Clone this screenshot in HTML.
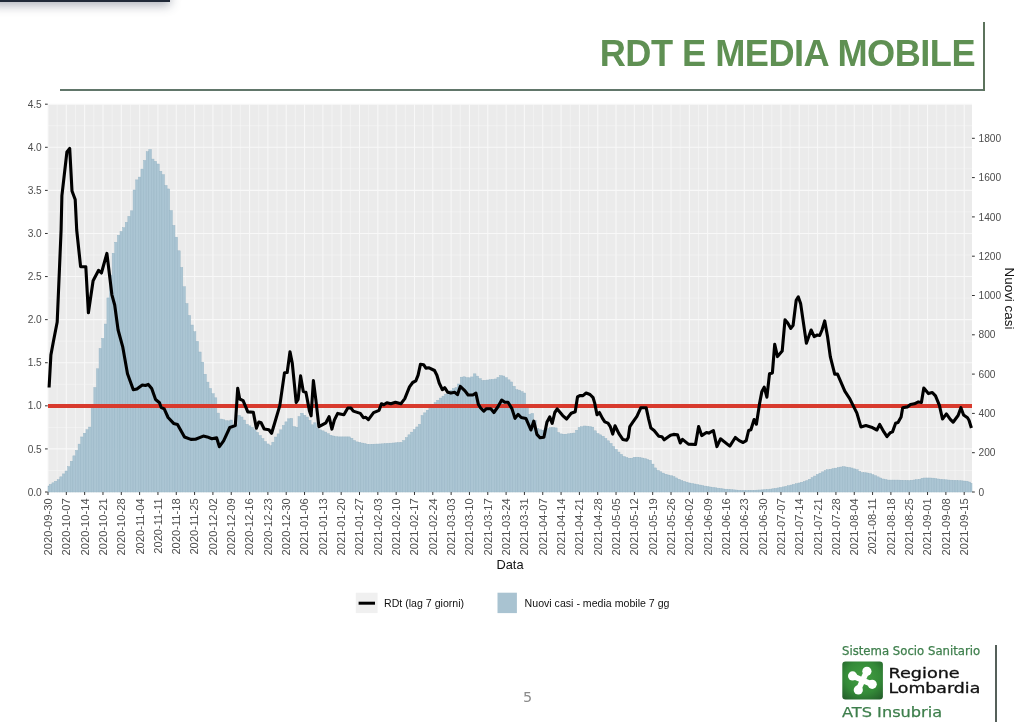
<!DOCTYPE html>
<html><head><meta charset="utf-8"><title>RDT E MEDIA MOBILE</title>
<style>
html,body{margin:0;padding:0;background:#fff}
body{width:1024px;height:722px;position:relative;overflow:hidden;font-family:"Liberation Sans",Arial,sans-serif}
.topbar{position:absolute;left:-10px;top:-12px;width:180px;height:13.6px;background:#202938;box-shadow:0 3px 11px rgba(50,60,80,.42)}
.title{position:absolute;right:49px;top:33px;font-weight:bold;font-size:36.2px;line-height:42px;color:#5f9053;white-space:nowrap;letter-spacing:-0.52px}
.hline{position:absolute;left:60px;top:89.4px;width:925px;height:1.3px;background:#61766a}
.vline{position:absolute;left:983.4px;top:21.8px;width:1.5px;height:69px;background:#5c735c}
.pn{position:absolute;left:523px;top:687px;font-size:14.4px;color:#8a8a8a;font-family:"DejaVu Sans","Liberation Sans",sans-serif;line-height:20px}
.lv{position:absolute;left:995.4px;top:645px;width:1.2px;height:80px;background:#55605a}
.sss{position:absolute;left:842px;top:643px;font-size:11.4px;line-height:14px;color:#3f8550;white-space:nowrap;letter-spacing:.35px;font-family:"DejaVu Sans","Liberation Sans",sans-serif}
.logo{position:absolute;left:842.5px;top:661.5px;width:40.5px;height:37.5px;border-radius:4px;background:linear-gradient(#3f9142,#2a6b2f)}
.rl{position:absolute;left:888px;font-size:14px;line-height:14px;color:#111;white-space:nowrap;font-family:"DejaVu Sans","Liberation Sans",sans-serif}
.ats{position:absolute;left:842px;top:703px;font-size:14px;line-height:16px;color:#3f8550;white-space:nowrap;font-family:"DejaVu Sans","Liberation Sans",sans-serif}
</style></head><body>
<div class="topbar"></div>
<div class="title">RDT E MEDIA MOBILE</div>
<div class="hline"></div><div class="vline"></div>
<svg width="1024" height="722" viewBox="0 0 1024 722" style="position:absolute;left:0;top:0">
<rect x="48.0" y="104.2" width="924.0" height="387.8" fill="#ebebeb"/>
<g><line x1="48.00" y1="104.2" x2="48.00" y2="492.0" stroke="#f8f8f8" stroke-width="1.05"/><line x1="57.16" y1="104.2" x2="57.16" y2="492.0" stroke="#f8f8f8" stroke-width="0.5"/><line x1="66.32" y1="104.2" x2="66.32" y2="492.0" stroke="#f8f8f8" stroke-width="1.05"/><line x1="75.49" y1="104.2" x2="75.49" y2="492.0" stroke="#f8f8f8" stroke-width="0.5"/><line x1="84.65" y1="104.2" x2="84.65" y2="492.0" stroke="#f8f8f8" stroke-width="1.05"/><line x1="93.81" y1="104.2" x2="93.81" y2="492.0" stroke="#f8f8f8" stroke-width="0.5"/><line x1="102.97" y1="104.2" x2="102.97" y2="492.0" stroke="#f8f8f8" stroke-width="1.05"/><line x1="112.13" y1="104.2" x2="112.13" y2="492.0" stroke="#f8f8f8" stroke-width="0.5"/><line x1="121.30" y1="104.2" x2="121.30" y2="492.0" stroke="#f8f8f8" stroke-width="1.05"/><line x1="130.46" y1="104.2" x2="130.46" y2="492.0" stroke="#f8f8f8" stroke-width="0.5"/><line x1="139.62" y1="104.2" x2="139.62" y2="492.0" stroke="#f8f8f8" stroke-width="1.05"/><line x1="148.78" y1="104.2" x2="148.78" y2="492.0" stroke="#f8f8f8" stroke-width="0.5"/><line x1="157.94" y1="104.2" x2="157.94" y2="492.0" stroke="#f8f8f8" stroke-width="1.05"/><line x1="167.11" y1="104.2" x2="167.11" y2="492.0" stroke="#f8f8f8" stroke-width="0.5"/><line x1="176.27" y1="104.2" x2="176.27" y2="492.0" stroke="#f8f8f8" stroke-width="1.05"/><line x1="185.43" y1="104.2" x2="185.43" y2="492.0" stroke="#f8f8f8" stroke-width="0.5"/><line x1="194.59" y1="104.2" x2="194.59" y2="492.0" stroke="#f8f8f8" stroke-width="1.05"/><line x1="203.75" y1="104.2" x2="203.75" y2="492.0" stroke="#f8f8f8" stroke-width="0.5"/><line x1="212.92" y1="104.2" x2="212.92" y2="492.0" stroke="#f8f8f8" stroke-width="1.05"/><line x1="222.08" y1="104.2" x2="222.08" y2="492.0" stroke="#f8f8f8" stroke-width="0.5"/><line x1="231.24" y1="104.2" x2="231.24" y2="492.0" stroke="#f8f8f8" stroke-width="1.05"/><line x1="240.40" y1="104.2" x2="240.40" y2="492.0" stroke="#f8f8f8" stroke-width="0.5"/><line x1="249.56" y1="104.2" x2="249.56" y2="492.0" stroke="#f8f8f8" stroke-width="1.05"/><line x1="258.73" y1="104.2" x2="258.73" y2="492.0" stroke="#f8f8f8" stroke-width="0.5"/><line x1="267.89" y1="104.2" x2="267.89" y2="492.0" stroke="#f8f8f8" stroke-width="1.05"/><line x1="277.05" y1="104.2" x2="277.05" y2="492.0" stroke="#f8f8f8" stroke-width="0.5"/><line x1="286.21" y1="104.2" x2="286.21" y2="492.0" stroke="#f8f8f8" stroke-width="1.05"/><line x1="295.37" y1="104.2" x2="295.37" y2="492.0" stroke="#f8f8f8" stroke-width="0.5"/><line x1="304.54" y1="104.2" x2="304.54" y2="492.0" stroke="#f8f8f8" stroke-width="1.05"/><line x1="313.70" y1="104.2" x2="313.70" y2="492.0" stroke="#f8f8f8" stroke-width="0.5"/><line x1="322.86" y1="104.2" x2="322.86" y2="492.0" stroke="#f8f8f8" stroke-width="1.05"/><line x1="332.02" y1="104.2" x2="332.02" y2="492.0" stroke="#f8f8f8" stroke-width="0.5"/><line x1="341.18" y1="104.2" x2="341.18" y2="492.0" stroke="#f8f8f8" stroke-width="1.05"/><line x1="350.35" y1="104.2" x2="350.35" y2="492.0" stroke="#f8f8f8" stroke-width="0.5"/><line x1="359.51" y1="104.2" x2="359.51" y2="492.0" stroke="#f8f8f8" stroke-width="1.05"/><line x1="368.67" y1="104.2" x2="368.67" y2="492.0" stroke="#f8f8f8" stroke-width="0.5"/><line x1="377.83" y1="104.2" x2="377.83" y2="492.0" stroke="#f8f8f8" stroke-width="1.05"/><line x1="386.99" y1="104.2" x2="386.99" y2="492.0" stroke="#f8f8f8" stroke-width="0.5"/><line x1="396.16" y1="104.2" x2="396.16" y2="492.0" stroke="#f8f8f8" stroke-width="1.05"/><line x1="405.32" y1="104.2" x2="405.32" y2="492.0" stroke="#f8f8f8" stroke-width="0.5"/><line x1="414.48" y1="104.2" x2="414.48" y2="492.0" stroke="#f8f8f8" stroke-width="1.05"/><line x1="423.64" y1="104.2" x2="423.64" y2="492.0" stroke="#f8f8f8" stroke-width="0.5"/><line x1="432.80" y1="104.2" x2="432.80" y2="492.0" stroke="#f8f8f8" stroke-width="1.05"/><line x1="441.97" y1="104.2" x2="441.97" y2="492.0" stroke="#f8f8f8" stroke-width="0.5"/><line x1="451.13" y1="104.2" x2="451.13" y2="492.0" stroke="#f8f8f8" stroke-width="1.05"/><line x1="460.29" y1="104.2" x2="460.29" y2="492.0" stroke="#f8f8f8" stroke-width="0.5"/><line x1="469.45" y1="104.2" x2="469.45" y2="492.0" stroke="#f8f8f8" stroke-width="1.05"/><line x1="478.61" y1="104.2" x2="478.61" y2="492.0" stroke="#f8f8f8" stroke-width="0.5"/><line x1="487.78" y1="104.2" x2="487.78" y2="492.0" stroke="#f8f8f8" stroke-width="1.05"/><line x1="496.94" y1="104.2" x2="496.94" y2="492.0" stroke="#f8f8f8" stroke-width="0.5"/><line x1="506.10" y1="104.2" x2="506.10" y2="492.0" stroke="#f8f8f8" stroke-width="1.05"/><line x1="515.26" y1="104.2" x2="515.26" y2="492.0" stroke="#f8f8f8" stroke-width="0.5"/><line x1="524.42" y1="104.2" x2="524.42" y2="492.0" stroke="#f8f8f8" stroke-width="1.05"/><line x1="533.59" y1="104.2" x2="533.59" y2="492.0" stroke="#f8f8f8" stroke-width="0.5"/><line x1="542.75" y1="104.2" x2="542.75" y2="492.0" stroke="#f8f8f8" stroke-width="1.05"/><line x1="551.91" y1="104.2" x2="551.91" y2="492.0" stroke="#f8f8f8" stroke-width="0.5"/><line x1="561.07" y1="104.2" x2="561.07" y2="492.0" stroke="#f8f8f8" stroke-width="1.05"/><line x1="570.23" y1="104.2" x2="570.23" y2="492.0" stroke="#f8f8f8" stroke-width="0.5"/><line x1="579.40" y1="104.2" x2="579.40" y2="492.0" stroke="#f8f8f8" stroke-width="1.05"/><line x1="588.56" y1="104.2" x2="588.56" y2="492.0" stroke="#f8f8f8" stroke-width="0.5"/><line x1="597.72" y1="104.2" x2="597.72" y2="492.0" stroke="#f8f8f8" stroke-width="1.05"/><line x1="606.88" y1="104.2" x2="606.88" y2="492.0" stroke="#f8f8f8" stroke-width="0.5"/><line x1="616.04" y1="104.2" x2="616.04" y2="492.0" stroke="#f8f8f8" stroke-width="1.05"/><line x1="625.21" y1="104.2" x2="625.21" y2="492.0" stroke="#f8f8f8" stroke-width="0.5"/><line x1="634.37" y1="104.2" x2="634.37" y2="492.0" stroke="#f8f8f8" stroke-width="1.05"/><line x1="643.53" y1="104.2" x2="643.53" y2="492.0" stroke="#f8f8f8" stroke-width="0.5"/><line x1="652.69" y1="104.2" x2="652.69" y2="492.0" stroke="#f8f8f8" stroke-width="1.05"/><line x1="661.85" y1="104.2" x2="661.85" y2="492.0" stroke="#f8f8f8" stroke-width="0.5"/><line x1="671.02" y1="104.2" x2="671.02" y2="492.0" stroke="#f8f8f8" stroke-width="1.05"/><line x1="680.18" y1="104.2" x2="680.18" y2="492.0" stroke="#f8f8f8" stroke-width="0.5"/><line x1="689.34" y1="104.2" x2="689.34" y2="492.0" stroke="#f8f8f8" stroke-width="1.05"/><line x1="698.50" y1="104.2" x2="698.50" y2="492.0" stroke="#f8f8f8" stroke-width="0.5"/><line x1="707.66" y1="104.2" x2="707.66" y2="492.0" stroke="#f8f8f8" stroke-width="1.05"/><line x1="716.83" y1="104.2" x2="716.83" y2="492.0" stroke="#f8f8f8" stroke-width="0.5"/><line x1="725.99" y1="104.2" x2="725.99" y2="492.0" stroke="#f8f8f8" stroke-width="1.05"/><line x1="735.15" y1="104.2" x2="735.15" y2="492.0" stroke="#f8f8f8" stroke-width="0.5"/><line x1="744.31" y1="104.2" x2="744.31" y2="492.0" stroke="#f8f8f8" stroke-width="1.05"/><line x1="753.47" y1="104.2" x2="753.47" y2="492.0" stroke="#f8f8f8" stroke-width="0.5"/><line x1="762.64" y1="104.2" x2="762.64" y2="492.0" stroke="#f8f8f8" stroke-width="1.05"/><line x1="771.80" y1="104.2" x2="771.80" y2="492.0" stroke="#f8f8f8" stroke-width="0.5"/><line x1="780.96" y1="104.2" x2="780.96" y2="492.0" stroke="#f8f8f8" stroke-width="1.05"/><line x1="790.12" y1="104.2" x2="790.12" y2="492.0" stroke="#f8f8f8" stroke-width="0.5"/><line x1="799.28" y1="104.2" x2="799.28" y2="492.0" stroke="#f8f8f8" stroke-width="1.05"/><line x1="808.45" y1="104.2" x2="808.45" y2="492.0" stroke="#f8f8f8" stroke-width="0.5"/><line x1="817.61" y1="104.2" x2="817.61" y2="492.0" stroke="#f8f8f8" stroke-width="1.05"/><line x1="826.77" y1="104.2" x2="826.77" y2="492.0" stroke="#f8f8f8" stroke-width="0.5"/><line x1="835.93" y1="104.2" x2="835.93" y2="492.0" stroke="#f8f8f8" stroke-width="1.05"/><line x1="845.09" y1="104.2" x2="845.09" y2="492.0" stroke="#f8f8f8" stroke-width="0.5"/><line x1="854.26" y1="104.2" x2="854.26" y2="492.0" stroke="#f8f8f8" stroke-width="1.05"/><line x1="863.42" y1="104.2" x2="863.42" y2="492.0" stroke="#f8f8f8" stroke-width="0.5"/><line x1="872.58" y1="104.2" x2="872.58" y2="492.0" stroke="#f8f8f8" stroke-width="1.05"/><line x1="881.74" y1="104.2" x2="881.74" y2="492.0" stroke="#f8f8f8" stroke-width="0.5"/><line x1="890.90" y1="104.2" x2="890.90" y2="492.0" stroke="#f8f8f8" stroke-width="1.05"/><line x1="900.07" y1="104.2" x2="900.07" y2="492.0" stroke="#f8f8f8" stroke-width="0.5"/><line x1="909.23" y1="104.2" x2="909.23" y2="492.0" stroke="#f8f8f8" stroke-width="1.05"/><line x1="918.39" y1="104.2" x2="918.39" y2="492.0" stroke="#f8f8f8" stroke-width="0.5"/><line x1="927.55" y1="104.2" x2="927.55" y2="492.0" stroke="#f8f8f8" stroke-width="1.05"/><line x1="936.71" y1="104.2" x2="936.71" y2="492.0" stroke="#f8f8f8" stroke-width="0.5"/><line x1="945.88" y1="104.2" x2="945.88" y2="492.0" stroke="#f8f8f8" stroke-width="1.05"/><line x1="955.04" y1="104.2" x2="955.04" y2="492.0" stroke="#f8f8f8" stroke-width="0.5"/><line x1="964.20" y1="104.2" x2="964.20" y2="492.0" stroke="#f8f8f8" stroke-width="1.05"/><line x1="48.0" y1="492.00" x2="972.0" y2="492.00" stroke="#f8f8f8" stroke-width="1.1"/><line x1="48.0" y1="470.46" x2="972.0" y2="470.46" stroke="#f8f8f8" stroke-width="0.55"/><line x1="48.0" y1="448.91" x2="972.0" y2="448.91" stroke="#f8f8f8" stroke-width="1.1"/><line x1="48.0" y1="427.37" x2="972.0" y2="427.37" stroke="#f8f8f8" stroke-width="0.55"/><line x1="48.0" y1="405.82" x2="972.0" y2="405.82" stroke="#f8f8f8" stroke-width="1.1"/><line x1="48.0" y1="384.28" x2="972.0" y2="384.28" stroke="#f8f8f8" stroke-width="0.55"/><line x1="48.0" y1="362.73" x2="972.0" y2="362.73" stroke="#f8f8f8" stroke-width="1.1"/><line x1="48.0" y1="341.19" x2="972.0" y2="341.19" stroke="#f8f8f8" stroke-width="0.55"/><line x1="48.0" y1="319.64" x2="972.0" y2="319.64" stroke="#f8f8f8" stroke-width="1.1"/><line x1="48.0" y1="298.10" x2="972.0" y2="298.10" stroke="#f8f8f8" stroke-width="0.55"/><line x1="48.0" y1="276.56" x2="972.0" y2="276.56" stroke="#f8f8f8" stroke-width="1.1"/><line x1="48.0" y1="255.01" x2="972.0" y2="255.01" stroke="#f8f8f8" stroke-width="0.55"/><line x1="48.0" y1="233.47" x2="972.0" y2="233.47" stroke="#f8f8f8" stroke-width="1.1"/><line x1="48.0" y1="211.92" x2="972.0" y2="211.92" stroke="#f8f8f8" stroke-width="0.55"/><line x1="48.0" y1="190.38" x2="972.0" y2="190.38" stroke="#f8f8f8" stroke-width="1.1"/><line x1="48.0" y1="168.83" x2="972.0" y2="168.83" stroke="#f8f8f8" stroke-width="0.55"/><line x1="48.0" y1="147.29" x2="972.0" y2="147.29" stroke="#f8f8f8" stroke-width="1.1"/><line x1="48.0" y1="125.74" x2="972.0" y2="125.74" stroke="#f8f8f8" stroke-width="0.55"/><line x1="48.0" y1="104.20" x2="972.0" y2="104.20" stroke="#f8f8f8" stroke-width="1.1"/></g>
<g fill="#abc5d3" stroke="#98b5c5" stroke-width="0.45"><rect x="48.00" y="486.00" width="1.31" height="6.00"/><rect x="49.31" y="484.42" width="2.62" height="7.58"/><rect x="51.93" y="482.84" width="2.62" height="9.16"/><rect x="54.54" y="481.26" width="2.62" height="10.74"/><rect x="57.16" y="479.68" width="2.62" height="12.32"/><rect x="59.78" y="476.83" width="2.62" height="15.17"/><rect x="62.40" y="473.91" width="2.62" height="18.09"/><rect x="65.02" y="471.00" width="2.62" height="21.00"/><rect x="67.63" y="466.63" width="2.62" height="25.37"/><rect x="70.25" y="461.25" width="2.62" height="30.75"/><rect x="72.87" y="455.86" width="2.62" height="36.14"/><rect x="75.49" y="450.48" width="2.62" height="41.52"/><rect x="78.10" y="444.12" width="2.62" height="47.88"/><rect x="80.72" y="436.96" width="2.62" height="55.04"/><rect x="83.34" y="433.22" width="2.62" height="58.78"/><rect x="85.96" y="429.75" width="2.62" height="62.25"/><rect x="88.57" y="427.07" width="2.62" height="64.93"/><rect x="91.19" y="404.38" width="2.62" height="87.62"/><rect x="93.81" y="387.47" width="2.62" height="104.53"/><rect x="96.43" y="368.78" width="2.62" height="123.22"/><rect x="99.05" y="348.46" width="2.62" height="143.54"/><rect x="101.66" y="338.41" width="2.62" height="153.59"/><rect x="104.28" y="324.06" width="2.62" height="167.94"/><rect x="106.90" y="297.93" width="2.62" height="194.07"/><rect x="109.52" y="275.05" width="2.62" height="216.95"/><rect x="112.13" y="253.22" width="2.62" height="238.78"/><rect x="114.75" y="242.26" width="2.62" height="249.74"/><rect x="117.37" y="235.31" width="2.62" height="256.69"/><rect x="119.99" y="231.46" width="2.62" height="260.54"/><rect x="122.60" y="227.72" width="2.62" height="264.28"/><rect x="125.22" y="222.35" width="2.62" height="269.65"/><rect x="127.84" y="216.35" width="2.62" height="275.65"/><rect x="130.46" y="210.81" width="2.62" height="281.19"/><rect x="133.08" y="189.98" width="2.62" height="302.02"/><rect x="135.69" y="179.89" width="2.62" height="312.11"/><rect x="138.31" y="177.11" width="2.62" height="314.89"/><rect x="140.93" y="169.05" width="2.62" height="322.95"/><rect x="143.55" y="160.44" width="2.62" height="331.56"/><rect x="146.16" y="151.71" width="2.62" height="340.29"/><rect x="148.78" y="149.50" width="2.62" height="342.50"/><rect x="151.40" y="159.09" width="2.62" height="332.91"/><rect x="154.02" y="161.32" width="2.62" height="330.68"/><rect x="156.64" y="164.00" width="2.62" height="328.00"/><rect x="159.25" y="171.30" width="2.62" height="320.70"/><rect x="161.87" y="174.66" width="2.62" height="317.34"/><rect x="164.49" y="185.48" width="2.62" height="306.52"/><rect x="167.11" y="188.95" width="2.62" height="303.05"/><rect x="169.72" y="210.56" width="2.62" height="281.44"/><rect x="172.34" y="225.49" width="2.62" height="266.51"/><rect x="174.96" y="237.18" width="2.62" height="254.82"/><rect x="177.58" y="250.80" width="2.62" height="241.20"/><rect x="180.19" y="267.46" width="2.62" height="224.54"/><rect x="182.81" y="286.75" width="2.62" height="205.25"/><rect x="185.43" y="303.59" width="2.62" height="188.41"/><rect x="188.05" y="315.48" width="2.62" height="176.52"/><rect x="190.67" y="325.03" width="2.62" height="166.97"/><rect x="193.28" y="331.77" width="2.62" height="160.23"/><rect x="195.90" y="341.39" width="2.62" height="150.61"/><rect x="198.52" y="352.00" width="2.62" height="140.00"/><rect x="201.14" y="362.18" width="2.62" height="129.82"/><rect x="203.75" y="374.23" width="2.62" height="117.77"/><rect x="206.37" y="382.14" width="2.62" height="109.86"/><rect x="208.99" y="388.50" width="2.62" height="103.50"/><rect x="211.61" y="393.73" width="2.62" height="98.27"/><rect x="214.22" y="397.83" width="2.62" height="94.17"/><rect x="216.84" y="413.09" width="2.62" height="78.91"/><rect x="219.46" y="419.06" width="2.62" height="72.94"/><rect x="222.08" y="419.70" width="2.62" height="72.30"/><rect x="224.70" y="420.69" width="2.62" height="71.31"/><rect x="227.31" y="420.88" width="2.62" height="71.12"/><rect x="229.93" y="420.02" width="2.62" height="71.98"/><rect x="232.55" y="424.75" width="2.62" height="67.25"/><rect x="235.17" y="424.81" width="2.62" height="67.19"/><rect x="237.78" y="415.44" width="2.62" height="76.56"/><rect x="240.40" y="417.00" width="2.62" height="75.00"/><rect x="243.02" y="420.08" width="2.62" height="71.92"/><rect x="245.64" y="424.31" width="2.62" height="67.69"/><rect x="248.26" y="425.85" width="2.62" height="66.15"/><rect x="250.87" y="427.32" width="2.62" height="64.68"/><rect x="253.49" y="429.80" width="2.62" height="62.20"/><rect x="256.11" y="432.45" width="2.62" height="59.55"/><rect x="258.73" y="435.52" width="2.62" height="56.48"/><rect x="261.34" y="438.56" width="2.62" height="53.44"/><rect x="263.96" y="441.57" width="2.62" height="50.43"/><rect x="266.58" y="443.97" width="2.62" height="48.03"/><rect x="269.20" y="445.75" width="2.62" height="46.25"/><rect x="271.81" y="442.19" width="2.62" height="49.81"/><rect x="274.43" y="437.05" width="2.62" height="54.95"/><rect x="277.05" y="433.89" width="2.62" height="58.11"/><rect x="279.67" y="429.85" width="2.62" height="62.15"/><rect x="282.29" y="425.46" width="2.62" height="66.54"/><rect x="284.90" y="421.86" width="2.62" height="70.14"/><rect x="287.52" y="418.83" width="2.62" height="73.17"/><rect x="290.14" y="418.38" width="2.62" height="73.62"/><rect x="292.76" y="426.61" width="2.62" height="65.39"/><rect x="295.37" y="427.21" width="2.62" height="64.79"/><rect x="297.99" y="416.58" width="2.62" height="75.42"/><rect x="300.61" y="413.27" width="2.62" height="78.73"/><rect x="303.23" y="415.29" width="2.62" height="76.71"/><rect x="305.84" y="417.04" width="2.62" height="74.96"/><rect x="308.46" y="420.40" width="2.62" height="71.60"/><rect x="311.08" y="424.82" width="2.62" height="67.18"/><rect x="313.70" y="422.81" width="2.62" height="69.19"/><rect x="316.32" y="428.13" width="2.62" height="63.87"/><rect x="318.93" y="429.88" width="2.62" height="62.12"/><rect x="321.55" y="430.84" width="2.62" height="61.16"/><rect x="324.17" y="432.08" width="2.62" height="59.92"/><rect x="326.79" y="433.72" width="2.62" height="58.28"/><rect x="329.40" y="435.33" width="2.62" height="56.67"/><rect x="332.02" y="435.99" width="2.62" height="56.01"/><rect x="334.64" y="436.66" width="2.62" height="55.34"/><rect x="337.26" y="436.90" width="2.62" height="55.10"/><rect x="339.88" y="436.90" width="2.62" height="55.10"/><rect x="342.49" y="436.90" width="2.62" height="55.10"/><rect x="345.11" y="436.90" width="2.62" height="55.10"/><rect x="347.73" y="436.90" width="2.62" height="55.10"/><rect x="350.35" y="438.26" width="2.62" height="53.74"/><rect x="352.96" y="440.47" width="2.62" height="51.53"/><rect x="355.58" y="441.89" width="2.62" height="50.11"/><rect x="358.20" y="442.48" width="2.62" height="49.52"/><rect x="360.82" y="443.07" width="2.62" height="48.93"/><rect x="363.43" y="443.66" width="2.62" height="48.34"/><rect x="366.05" y="444.26" width="2.62" height="47.74"/><rect x="368.67" y="444.33" width="2.62" height="47.67"/><rect x="371.29" y="444.24" width="2.62" height="47.76"/><rect x="373.91" y="444.14" width="2.62" height="47.86"/><rect x="376.52" y="444.05" width="2.62" height="47.95"/><rect x="379.14" y="443.96" width="2.62" height="48.04"/><rect x="381.76" y="443.82" width="2.62" height="48.18"/><rect x="384.38" y="443.61" width="2.62" height="48.39"/><rect x="386.99" y="443.41" width="2.62" height="48.59"/><rect x="389.61" y="443.20" width="2.62" height="48.80"/><rect x="392.23" y="443.00" width="2.62" height="49.00"/><rect x="394.85" y="442.80" width="2.62" height="49.20"/><rect x="397.46" y="442.59" width="2.62" height="49.41"/><rect x="400.08" y="442.39" width="2.62" height="49.61"/><rect x="402.70" y="440.57" width="2.62" height="51.43"/><rect x="405.32" y="437.56" width="2.62" height="54.44"/><rect x="407.94" y="434.82" width="2.62" height="57.18"/><rect x="410.55" y="432.16" width="2.62" height="59.84"/><rect x="413.17" y="429.54" width="2.62" height="62.46"/><rect x="415.79" y="426.96" width="2.62" height="65.04"/><rect x="418.41" y="424.32" width="2.62" height="67.68"/><rect x="421.02" y="415.51" width="2.62" height="76.49"/><rect x="423.64" y="412.87" width="2.62" height="79.13"/><rect x="426.26" y="410.23" width="2.62" height="81.77"/><rect x="428.88" y="407.59" width="2.62" height="84.41"/><rect x="431.50" y="404.95" width="2.62" height="87.05"/><rect x="434.11" y="402.56" width="2.62" height="89.44"/><rect x="436.73" y="400.29" width="2.62" height="91.71"/><rect x="439.35" y="398.11" width="2.62" height="93.89"/><rect x="441.97" y="396.14" width="2.62" height="95.86"/><rect x="444.58" y="394.17" width="2.62" height="97.83"/><rect x="447.20" y="392.30" width="2.62" height="99.70"/><rect x="449.82" y="390.44" width="2.62" height="101.56"/><rect x="452.44" y="388.58" width="2.62" height="103.42"/><rect x="455.05" y="387.65" width="2.62" height="104.35"/><rect x="457.67" y="384.00" width="2.62" height="108.00"/><rect x="460.29" y="377.19" width="2.62" height="114.81"/><rect x="462.91" y="376.81" width="2.62" height="115.19"/><rect x="465.53" y="377.65" width="2.62" height="114.35"/><rect x="468.14" y="377.84" width="2.62" height="114.16"/><rect x="470.76" y="376.95" width="2.62" height="115.05"/><rect x="473.38" y="373.84" width="2.62" height="118.16"/><rect x="476.00" y="376.13" width="2.62" height="115.87"/><rect x="478.61" y="378.71" width="2.62" height="113.29"/><rect x="481.23" y="380.57" width="2.62" height="111.43"/><rect x="483.85" y="380.30" width="2.62" height="111.70"/><rect x="486.47" y="380.03" width="2.62" height="111.97"/><rect x="489.08" y="379.74" width="2.62" height="112.26"/><rect x="491.70" y="379.37" width="2.62" height="112.63"/><rect x="494.32" y="378.99" width="2.62" height="113.01"/><rect x="496.94" y="377.47" width="2.62" height="114.53"/><rect x="499.56" y="375.60" width="2.62" height="116.40"/><rect x="502.17" y="376.05" width="2.62" height="115.95"/><rect x="504.79" y="377.71" width="2.62" height="114.29"/><rect x="507.41" y="379.86" width="2.62" height="112.14"/><rect x="510.03" y="381.96" width="2.62" height="110.04"/><rect x="512.64" y="386.30" width="2.62" height="105.70"/><rect x="515.26" y="389.76" width="2.62" height="102.24"/><rect x="517.88" y="390.15" width="2.62" height="101.85"/><rect x="520.50" y="391.68" width="2.62" height="100.32"/><rect x="523.12" y="393.00" width="2.62" height="99.00"/><rect x="525.73" y="406.56" width="2.62" height="85.44"/><rect x="528.35" y="414.30" width="2.62" height="77.70"/><rect x="530.97" y="413.44" width="2.62" height="78.56"/><rect x="533.59" y="420.29" width="2.62" height="71.71"/><rect x="536.20" y="428.41" width="2.62" height="63.59"/><rect x="538.82" y="429.75" width="2.62" height="62.25"/><rect x="541.44" y="430.26" width="2.62" height="61.74"/><rect x="544.06" y="429.73" width="2.62" height="62.27"/><rect x="546.67" y="428.74" width="2.62" height="63.26"/><rect x="549.29" y="427.73" width="2.62" height="64.27"/><rect x="551.91" y="427.52" width="2.62" height="64.48"/><rect x="554.53" y="427.90" width="2.62" height="64.10"/><rect x="557.15" y="432.55" width="2.62" height="59.45"/><rect x="559.76" y="433.90" width="2.62" height="58.10"/><rect x="562.38" y="434.23" width="2.62" height="57.77"/><rect x="565.00" y="434.21" width="2.62" height="57.79"/><rect x="567.62" y="433.82" width="2.62" height="58.18"/><rect x="570.23" y="433.44" width="2.62" height="58.56"/><rect x="572.85" y="433.06" width="2.62" height="58.94"/><rect x="575.47" y="430.22" width="2.62" height="61.78"/><rect x="578.09" y="427.54" width="2.62" height="64.46"/><rect x="580.70" y="426.77" width="2.62" height="65.23"/><rect x="583.32" y="426.00" width="2.62" height="66.00"/><rect x="585.94" y="426.17" width="2.62" height="65.83"/><rect x="588.56" y="426.68" width="2.62" height="65.32"/><rect x="591.18" y="427.18" width="2.62" height="64.82"/><rect x="593.79" y="430.80" width="2.62" height="61.20"/><rect x="596.41" y="433.53" width="2.62" height="58.47"/><rect x="599.03" y="434.83" width="2.62" height="57.17"/><rect x="601.65" y="436.28" width="2.62" height="55.72"/><rect x="604.26" y="438.45" width="2.62" height="53.55"/><rect x="606.88" y="440.80" width="2.62" height="51.20"/><rect x="609.50" y="443.45" width="2.62" height="48.55"/><rect x="612.12" y="446.52" width="2.62" height="45.48"/><rect x="614.74" y="449.44" width="2.62" height="42.56"/><rect x="617.35" y="452.06" width="2.62" height="39.94"/><rect x="619.97" y="454.41" width="2.62" height="37.59"/><rect x="622.59" y="456.58" width="2.62" height="35.42"/><rect x="625.21" y="457.55" width="2.62" height="34.45"/><rect x="627.82" y="458.22" width="2.62" height="33.78"/><rect x="630.44" y="458.21" width="2.62" height="33.79"/><rect x="633.06" y="457.32" width="2.62" height="34.68"/><rect x="635.68" y="457.21" width="2.62" height="34.79"/><rect x="638.29" y="457.55" width="2.62" height="34.45"/><rect x="640.91" y="457.98" width="2.62" height="34.02"/><rect x="643.53" y="458.73" width="2.62" height="33.27"/><rect x="646.15" y="459.47" width="2.62" height="32.53"/><rect x="648.77" y="460.31" width="2.62" height="31.69"/><rect x="651.38" y="464.12" width="2.62" height="27.88"/><rect x="654.00" y="467.92" width="2.62" height="24.08"/><rect x="656.62" y="470.47" width="2.62" height="21.53"/><rect x="659.24" y="471.80" width="2.62" height="20.20"/><rect x="661.85" y="473.12" width="2.62" height="18.88"/><rect x="664.47" y="474.25" width="2.62" height="17.75"/><rect x="667.09" y="475.01" width="2.62" height="16.99"/><rect x="669.71" y="475.77" width="2.62" height="16.23"/><rect x="672.32" y="476.62" width="2.62" height="15.38"/><rect x="674.94" y="477.94" width="2.62" height="14.06"/><rect x="677.56" y="479.27" width="2.62" height="12.73"/><rect x="680.18" y="480.59" width="2.62" height="11.41"/><rect x="682.80" y="481.38" width="2.62" height="10.62"/><rect x="685.41" y="482.17" width="2.62" height="9.83"/><rect x="688.03" y="482.96" width="2.62" height="9.04"/><rect x="690.65" y="483.52" width="2.62" height="8.48"/><rect x="693.27" y="484.02" width="2.62" height="7.98"/><rect x="695.88" y="484.53" width="2.62" height="7.47"/><rect x="698.50" y="485.05" width="2.62" height="6.95"/><rect x="701.12" y="485.59" width="2.62" height="6.41"/><rect x="703.74" y="486.12" width="2.62" height="5.88"/><rect x="706.36" y="486.60" width="2.62" height="5.40"/><rect x="708.97" y="487.01" width="2.62" height="4.99"/><rect x="711.59" y="487.42" width="2.62" height="4.58"/><rect x="714.21" y="487.82" width="2.62" height="4.18"/><rect x="716.83" y="488.20" width="2.62" height="3.80"/><rect x="719.44" y="488.58" width="2.62" height="3.42"/><rect x="722.06" y="488.94" width="2.62" height="3.06"/><rect x="724.68" y="489.19" width="2.62" height="2.81"/><rect x="727.30" y="489.44" width="2.62" height="2.56"/><rect x="729.91" y="489.69" width="2.62" height="2.31"/><rect x="732.53" y="489.88" width="2.62" height="2.12"/><rect x="735.15" y="490.06" width="2.62" height="1.94"/><rect x="737.77" y="490.24" width="2.62" height="1.76"/><rect x="740.39" y="490.42" width="2.62" height="1.58"/><rect x="743.00" y="490.47" width="2.62" height="1.53"/><rect x="745.62" y="490.41" width="2.62" height="1.59"/><rect x="748.24" y="490.35" width="2.62" height="1.65"/><rect x="750.86" y="490.29" width="2.62" height="1.71"/><rect x="753.47" y="490.23" width="2.62" height="1.77"/><rect x="756.09" y="490.14" width="2.62" height="1.86"/><rect x="758.71" y="490.01" width="2.62" height="1.99"/><rect x="761.33" y="489.88" width="2.62" height="2.12"/><rect x="763.94" y="489.75" width="2.62" height="2.25"/><rect x="766.56" y="489.48" width="2.62" height="2.52"/><rect x="769.18" y="489.14" width="2.62" height="2.86"/><rect x="771.80" y="488.79" width="2.62" height="3.21"/><rect x="774.42" y="488.45" width="2.62" height="3.55"/><rect x="777.03" y="487.95" width="2.62" height="4.05"/><rect x="779.65" y="487.43" width="2.62" height="4.57"/><rect x="782.27" y="486.90" width="2.62" height="5.10"/><rect x="784.89" y="486.38" width="2.62" height="5.62"/><rect x="787.50" y="485.71" width="2.62" height="6.29"/><rect x="790.12" y="485.05" width="2.62" height="6.95"/><rect x="792.74" y="484.39" width="2.62" height="7.61"/><rect x="795.36" y="483.71" width="2.62" height="8.29"/><rect x="797.98" y="482.98" width="2.62" height="9.02"/><rect x="800.59" y="482.25" width="2.62" height="9.75"/><rect x="803.21" y="481.51" width="2.62" height="10.49"/><rect x="805.83" y="480.57" width="2.62" height="11.43"/><rect x="808.45" y="479.22" width="2.62" height="12.78"/><rect x="811.06" y="477.65" width="2.62" height="14.35"/><rect x="813.68" y="476.07" width="2.62" height="15.93"/><rect x="816.30" y="474.50" width="2.62" height="17.50"/><rect x="818.92" y="473.19" width="2.62" height="18.81"/><rect x="821.53" y="471.88" width="2.62" height="20.12"/><rect x="824.15" y="470.57" width="2.62" height="21.43"/><rect x="826.77" y="469.76" width="2.62" height="22.24"/><rect x="829.39" y="469.22" width="2.62" height="22.78"/><rect x="832.01" y="468.69" width="2.62" height="23.31"/><rect x="834.62" y="468.14" width="2.62" height="23.86"/><rect x="837.24" y="467.58" width="2.62" height="24.42"/><rect x="839.86" y="467.02" width="2.62" height="24.98"/><rect x="842.48" y="466.70" width="2.62" height="25.30"/><rect x="845.09" y="467.10" width="2.62" height="24.90"/><rect x="847.71" y="467.50" width="2.62" height="24.50"/><rect x="850.33" y="468.01" width="2.62" height="23.99"/><rect x="852.95" y="468.87" width="2.62" height="23.13"/><rect x="855.56" y="469.73" width="2.62" height="22.27"/><rect x="858.18" y="471.42" width="2.62" height="20.58"/><rect x="860.80" y="472.53" width="2.62" height="19.47"/><rect x="863.42" y="472.76" width="2.62" height="19.24"/><rect x="866.04" y="472.99" width="2.62" height="19.01"/><rect x="868.65" y="473.64" width="2.62" height="18.36"/><rect x="871.27" y="474.69" width="2.62" height="17.31"/><rect x="873.89" y="475.74" width="2.62" height="16.26"/><rect x="876.51" y="476.85" width="2.62" height="15.15"/><rect x="879.12" y="477.97" width="2.62" height="14.03"/><rect x="881.74" y="479.00" width="2.62" height="13.00"/><rect x="884.36" y="479.59" width="2.62" height="12.41"/><rect x="886.98" y="480.10" width="2.62" height="11.90"/><rect x="889.60" y="480.10" width="2.62" height="11.90"/><rect x="892.21" y="480.10" width="2.62" height="11.90"/><rect x="894.83" y="480.10" width="2.62" height="11.90"/><rect x="897.45" y="480.12" width="2.62" height="11.88"/><rect x="900.07" y="480.24" width="2.62" height="11.76"/><rect x="902.68" y="480.36" width="2.62" height="11.64"/><rect x="905.30" y="480.49" width="2.62" height="11.51"/><rect x="907.92" y="480.57" width="2.62" height="11.43"/><rect x="910.54" y="480.27" width="2.62" height="11.73"/><rect x="913.15" y="479.98" width="2.62" height="12.02"/><rect x="915.77" y="479.68" width="2.62" height="12.32"/><rect x="918.39" y="479.32" width="2.62" height="12.68"/><rect x="921.01" y="478.27" width="2.62" height="13.73"/><rect x="923.63" y="478.00" width="2.62" height="14.00"/><rect x="926.24" y="478.00" width="2.62" height="14.00"/><rect x="928.86" y="478.00" width="2.62" height="14.00"/><rect x="931.48" y="478.16" width="2.62" height="13.84"/><rect x="934.10" y="478.57" width="2.62" height="13.43"/><rect x="936.71" y="478.99" width="2.62" height="13.01"/><rect x="939.33" y="479.40" width="2.62" height="12.60"/><rect x="941.95" y="479.61" width="2.62" height="12.39"/><rect x="944.57" y="479.82" width="2.62" height="12.18"/><rect x="947.18" y="480.03" width="2.62" height="11.97"/><rect x="949.80" y="480.20" width="2.62" height="11.80"/><rect x="952.42" y="480.35" width="2.62" height="11.65"/><rect x="955.04" y="480.49" width="2.62" height="11.51"/><rect x="957.66" y="480.65" width="2.62" height="11.35"/><rect x="960.27" y="480.83" width="2.62" height="11.17"/><rect x="962.89" y="481.01" width="2.62" height="10.99"/><rect x="965.51" y="481.19" width="2.62" height="10.81"/><rect x="968.13" y="482.04" width="2.62" height="9.96"/><rect x="970.74" y="483.30" width="1.26" height="8.70"/></g>
<line x1="48.0" y1="406" x2="972.0" y2="406" stroke="#d83a2d" stroke-width="3.8"/>
<polyline points="49.1,387.5 50.9,355.0 53.3,342.0 57.2,322.0 61.1,230.0 61.9,195.6 66.9,152.0 69.7,148.4 72.0,191.0 75.2,199.5 76.7,230.0 80.6,266.7 85.8,266.7 88.4,312.8 93.1,280.8 98.6,270.3 101.4,273.0 106.9,253.4 111.9,294.8 114.7,305.0 118.1,330.0 122.8,347.2 127.5,373.8 133.3,389.8 136.9,389.0 142.3,385.0 145.5,385.5 148.3,384.4 151.7,388.6 155.6,399.5 159.5,402.7 161.1,407.3 164.2,408.9 168.1,417.5 173.6,423.4 177.5,424.5 184.5,437.0 190.8,439.4 195.5,439.2 203.3,436.1 207.2,436.9 211.9,438.8 216.6,437.7 219.4,446.7 223.6,440.8 229.8,427.5 235.3,425.6 237.7,388.4 239.7,399.0 243.1,400.6 247.8,411.9 253.3,412.2 256.4,428.3 258.8,422.0 261.1,422.8 264.2,429.0 268.9,429.8 271.6,433.3 275.2,421.2 279.8,405.6 284.5,372.8 287.2,372.5 290.0,351.7 292.3,363.4 296.2,402.5 298.1,399.4 300.6,375.9 303.3,391.6 305.9,392.3 309.5,411.1 311.1,415.8 313.4,380.6 315.8,399.4 318.9,426.7 325.9,422.8 329.1,416.6 331.9,429.1 334.5,419.7 337.7,413.4 343.9,414.7 347.8,408.0 350.9,408.0 353.3,411.1 360.3,413.4 363.4,417.7 365.8,417.3 368.4,419.7 373.6,412.7 379.1,410.3 381.4,403.8 383.8,404.8 386.9,402.8 390.8,403.8 395.5,402.2 400.9,403.8 404.8,398.6 409.5,386.9 412.7,382.5 415.8,380.9 418.1,375.2 420.5,364.2 423.6,364.7 425.9,368.1 429.1,367.8 434.5,370.5 436.9,375.2 439.2,383.0 442.3,389.7 444.7,387.7 447.8,392.3 450.9,393.1 454.8,392.3 457.5,394.7 460.3,386.4 465.0,390.8 468.1,395.0 472.8,395.0 475.9,393.1 478.3,404.1 480.6,408.0 483.8,411.1 486.1,408.8 490.8,408.8 493.9,412.5 497.8,407.0 501.7,400.0 504.8,402.3 508.0,402.3 511.9,408.6 515.0,418.4 518.1,414.4 521.2,417.5 525.9,418.4 530.9,430.0 533.8,421.1 536.9,434.4 540.0,437.8 543.9,437.2 547.0,421.9 549.7,416.9 552.2,423.4 554.8,412.5 557.2,409.0 562.7,415.6 566.6,419.0 571.2,413.3 575.2,411.7 577.5,396.9 579.8,395.6 583.0,395.6 586.1,393.0 590.0,394.5 593.1,397.7 594.7,403.1 597.0,414.8 599.4,412.5 602.5,418.4 604.8,421.9 608.0,423.1 610.3,426.6 612.7,434.1 615.0,425.8 618.9,433.6 622.8,439.4 626.7,440.3 628.3,437.5 629.8,426.6 633.0,421.9 636.9,416.4 640.8,407.8 646.2,407.8 648.6,418.8 650.9,428.1 654.1,430.5 658.8,436.2 661.9,436.7 664.2,439.8 670.5,435.2 673.6,434.4 677.5,434.7 680.3,443.0 682.5,439.4 688.4,444.1 695.5,444.5 698.6,426.6 701.7,435.6 706.4,432.5 708.8,433.1 713.4,430.5 716.9,446.6 720.5,438.8 729.8,446.1 735.3,437.5 739.2,440.6 743.1,442.5 746.2,440.6 748.6,430.5 750.9,429.7 754.1,419.5 756.4,424.2 759.5,403.9 761.9,391.4 764.2,387.2 766.9,397.2 769.5,373.8 772.4,372.9 774.7,344.4 777.5,356.6 782.2,351.1 785.0,319.8 787.7,323.0 790.8,328.4 793.1,325.3 796.2,300.3 798.3,296.9 800.6,303.4 806.4,343.3 811.1,330.0 814.2,336.6 817.3,335.0 819.7,335.5 822.0,330.0 824.7,320.9 827.5,336.2 830.3,356.6 834.7,374.1 837.5,374.1 844.8,391.2 849.5,398.3 853.4,406.1 856.9,413.1 860.9,426.9 865.9,425.6 871.4,427.2 876.9,430.0 879.7,424.4 883.9,431.9 887.0,436.6 890.2,432.7 892.5,431.9 895.6,423.3 898.0,422.5 901.1,417.0 902.7,407.7 907.3,406.9 910.5,404.5 914.4,403.8 918.3,401.9 921.4,402.5 923.8,388.1 928.4,393.6 932.3,392.5 935.5,395.9 939.4,405.3 942.5,419.0 946.4,413.9 950.3,419.4 953.1,422.2 958.1,415.5 960.9,407.7 963.6,415.0 967.5,417.8 969.0,420.2 971.4,428.0" fill="none" stroke="#000" stroke-width="3.1" stroke-linejoin="round" stroke-linecap="butt"/>
<g font-family="Liberation Sans, Arial, sans-serif"><line x1="45" y1="492.00" x2="47.7" y2="492.00" stroke="#333" stroke-width="1"/><text x="41.8" y="495.60" text-anchor="end" font-size="10.2" fill="#4d4d4d">0.0</text><line x1="45" y1="448.91" x2="47.7" y2="448.91" stroke="#333" stroke-width="1"/><text x="41.8" y="452.51" text-anchor="end" font-size="10.2" fill="#4d4d4d">0.5</text><line x1="45" y1="405.82" x2="47.7" y2="405.82" stroke="#333" stroke-width="1"/><text x="41.8" y="409.42" text-anchor="end" font-size="10.2" fill="#4d4d4d">1.0</text><line x1="45" y1="362.73" x2="47.7" y2="362.73" stroke="#333" stroke-width="1"/><text x="41.8" y="366.33" text-anchor="end" font-size="10.2" fill="#4d4d4d">1.5</text><line x1="45" y1="319.64" x2="47.7" y2="319.64" stroke="#333" stroke-width="1"/><text x="41.8" y="323.24" text-anchor="end" font-size="10.2" fill="#4d4d4d">2.0</text><line x1="45" y1="276.56" x2="47.7" y2="276.56" stroke="#333" stroke-width="1"/><text x="41.8" y="280.16" text-anchor="end" font-size="10.2" fill="#4d4d4d">2.5</text><line x1="45" y1="233.47" x2="47.7" y2="233.47" stroke="#333" stroke-width="1"/><text x="41.8" y="237.07" text-anchor="end" font-size="10.2" fill="#4d4d4d">3.0</text><line x1="45" y1="190.38" x2="47.7" y2="190.38" stroke="#333" stroke-width="1"/><text x="41.8" y="193.98" text-anchor="end" font-size="10.2" fill="#4d4d4d">3.5</text><line x1="45" y1="147.29" x2="47.7" y2="147.29" stroke="#333" stroke-width="1"/><text x="41.8" y="150.89" text-anchor="end" font-size="10.2" fill="#4d4d4d">4.0</text><line x1="45" y1="104.20" x2="47.7" y2="104.20" stroke="#333" stroke-width="1"/><text x="41.8" y="107.80" text-anchor="end" font-size="10.2" fill="#4d4d4d">4.5</text><line x1="972" y1="492.00" x2="974.8" y2="492.00" stroke="#333" stroke-width="1"/><text x="978.5" y="495.60" font-size="10.2" fill="#4d4d4d">0</text><line x1="972" y1="452.70" x2="974.8" y2="452.70" stroke="#333" stroke-width="1"/><text x="978.5" y="456.30" font-size="10.2" fill="#4d4d4d">200</text><line x1="972" y1="413.40" x2="974.8" y2="413.40" stroke="#333" stroke-width="1"/><text x="978.5" y="417.00" font-size="10.2" fill="#4d4d4d">400</text><line x1="972" y1="374.10" x2="974.8" y2="374.10" stroke="#333" stroke-width="1"/><text x="978.5" y="377.70" font-size="10.2" fill="#4d4d4d">600</text><line x1="972" y1="334.80" x2="974.8" y2="334.80" stroke="#333" stroke-width="1"/><text x="978.5" y="338.40" font-size="10.2" fill="#4d4d4d">800</text><line x1="972" y1="295.50" x2="974.8" y2="295.50" stroke="#333" stroke-width="1"/><text x="978.5" y="299.10" font-size="10.2" fill="#4d4d4d">1000</text><line x1="972" y1="256.20" x2="974.8" y2="256.20" stroke="#333" stroke-width="1"/><text x="978.5" y="259.80" font-size="10.2" fill="#4d4d4d">1200</text><line x1="972" y1="216.90" x2="974.8" y2="216.90" stroke="#333" stroke-width="1"/><text x="978.5" y="220.50" font-size="10.2" fill="#4d4d4d">1400</text><line x1="972" y1="177.60" x2="974.8" y2="177.60" stroke="#333" stroke-width="1"/><text x="978.5" y="181.20" font-size="10.2" fill="#4d4d4d">1600</text><line x1="972" y1="138.30" x2="974.8" y2="138.30" stroke="#333" stroke-width="1"/><text x="978.5" y="141.90" font-size="10.2" fill="#4d4d4d">1800</text><line x1="48.00" y1="492" x2="48.00" y2="495" stroke="#333" stroke-width="1"/><text transform="translate(51.90,498.4) rotate(-90)" text-anchor="end" font-size="11.15" fill="#4d4d4d">2020-09-30</text><line x1="66.32" y1="492" x2="66.32" y2="495" stroke="#333" stroke-width="1"/><text transform="translate(70.22,498.4) rotate(-90)" text-anchor="end" font-size="11.15" fill="#4d4d4d">2020-10-07</text><line x1="84.65" y1="492" x2="84.65" y2="495" stroke="#333" stroke-width="1"/><text transform="translate(88.55,498.4) rotate(-90)" text-anchor="end" font-size="11.15" fill="#4d4d4d">2020-10-14</text><line x1="102.97" y1="492" x2="102.97" y2="495" stroke="#333" stroke-width="1"/><text transform="translate(106.87,498.4) rotate(-90)" text-anchor="end" font-size="11.15" fill="#4d4d4d">2020-10-21</text><line x1="121.30" y1="492" x2="121.30" y2="495" stroke="#333" stroke-width="1"/><text transform="translate(125.20,498.4) rotate(-90)" text-anchor="end" font-size="11.15" fill="#4d4d4d">2020-10-28</text><line x1="139.62" y1="492" x2="139.62" y2="495" stroke="#333" stroke-width="1"/><text transform="translate(143.52,498.4) rotate(-90)" text-anchor="end" font-size="11.15" fill="#4d4d4d">2020-11-04</text><line x1="157.94" y1="492" x2="157.94" y2="495" stroke="#333" stroke-width="1"/><text transform="translate(161.84,498.4) rotate(-90)" text-anchor="end" font-size="11.15" fill="#4d4d4d">2020-11-11</text><line x1="176.27" y1="492" x2="176.27" y2="495" stroke="#333" stroke-width="1"/><text transform="translate(180.17,498.4) rotate(-90)" text-anchor="end" font-size="11.15" fill="#4d4d4d">2020-11-18</text><line x1="194.59" y1="492" x2="194.59" y2="495" stroke="#333" stroke-width="1"/><text transform="translate(198.49,498.4) rotate(-90)" text-anchor="end" font-size="11.15" fill="#4d4d4d">2020-11-25</text><line x1="212.92" y1="492" x2="212.92" y2="495" stroke="#333" stroke-width="1"/><text transform="translate(216.82,498.4) rotate(-90)" text-anchor="end" font-size="11.15" fill="#4d4d4d">2020-12-02</text><line x1="231.24" y1="492" x2="231.24" y2="495" stroke="#333" stroke-width="1"/><text transform="translate(235.14,498.4) rotate(-90)" text-anchor="end" font-size="11.15" fill="#4d4d4d">2020-12-09</text><line x1="249.56" y1="492" x2="249.56" y2="495" stroke="#333" stroke-width="1"/><text transform="translate(253.46,498.4) rotate(-90)" text-anchor="end" font-size="11.15" fill="#4d4d4d">2020-12-16</text><line x1="267.89" y1="492" x2="267.89" y2="495" stroke="#333" stroke-width="1"/><text transform="translate(271.79,498.4) rotate(-90)" text-anchor="end" font-size="11.15" fill="#4d4d4d">2020-12-23</text><line x1="286.21" y1="492" x2="286.21" y2="495" stroke="#333" stroke-width="1"/><text transform="translate(290.11,498.4) rotate(-90)" text-anchor="end" font-size="11.15" fill="#4d4d4d">2020-12-30</text><line x1="304.54" y1="492" x2="304.54" y2="495" stroke="#333" stroke-width="1"/><text transform="translate(308.44,498.4) rotate(-90)" text-anchor="end" font-size="11.15" fill="#4d4d4d">2021-01-06</text><line x1="322.86" y1="492" x2="322.86" y2="495" stroke="#333" stroke-width="1"/><text transform="translate(326.76,498.4) rotate(-90)" text-anchor="end" font-size="11.15" fill="#4d4d4d">2021-01-13</text><line x1="341.18" y1="492" x2="341.18" y2="495" stroke="#333" stroke-width="1"/><text transform="translate(345.08,498.4) rotate(-90)" text-anchor="end" font-size="11.15" fill="#4d4d4d">2021-01-20</text><line x1="359.51" y1="492" x2="359.51" y2="495" stroke="#333" stroke-width="1"/><text transform="translate(363.41,498.4) rotate(-90)" text-anchor="end" font-size="11.15" fill="#4d4d4d">2021-01-27</text><line x1="377.83" y1="492" x2="377.83" y2="495" stroke="#333" stroke-width="1"/><text transform="translate(381.73,498.4) rotate(-90)" text-anchor="end" font-size="11.15" fill="#4d4d4d">2021-02-03</text><line x1="396.16" y1="492" x2="396.16" y2="495" stroke="#333" stroke-width="1"/><text transform="translate(400.06,498.4) rotate(-90)" text-anchor="end" font-size="11.15" fill="#4d4d4d">2021-02-10</text><line x1="414.48" y1="492" x2="414.48" y2="495" stroke="#333" stroke-width="1"/><text transform="translate(418.38,498.4) rotate(-90)" text-anchor="end" font-size="11.15" fill="#4d4d4d">2021-02-17</text><line x1="432.80" y1="492" x2="432.80" y2="495" stroke="#333" stroke-width="1"/><text transform="translate(436.70,498.4) rotate(-90)" text-anchor="end" font-size="11.15" fill="#4d4d4d">2021-02-24</text><line x1="451.13" y1="492" x2="451.13" y2="495" stroke="#333" stroke-width="1"/><text transform="translate(455.03,498.4) rotate(-90)" text-anchor="end" font-size="11.15" fill="#4d4d4d">2021-03-03</text><line x1="469.45" y1="492" x2="469.45" y2="495" stroke="#333" stroke-width="1"/><text transform="translate(473.35,498.4) rotate(-90)" text-anchor="end" font-size="11.15" fill="#4d4d4d">2021-03-10</text><line x1="487.78" y1="492" x2="487.78" y2="495" stroke="#333" stroke-width="1"/><text transform="translate(491.68,498.4) rotate(-90)" text-anchor="end" font-size="11.15" fill="#4d4d4d">2021-03-17</text><line x1="506.10" y1="492" x2="506.10" y2="495" stroke="#333" stroke-width="1"/><text transform="translate(510.00,498.4) rotate(-90)" text-anchor="end" font-size="11.15" fill="#4d4d4d">2021-03-24</text><line x1="524.42" y1="492" x2="524.42" y2="495" stroke="#333" stroke-width="1"/><text transform="translate(528.32,498.4) rotate(-90)" text-anchor="end" font-size="11.15" fill="#4d4d4d">2021-03-31</text><line x1="542.75" y1="492" x2="542.75" y2="495" stroke="#333" stroke-width="1"/><text transform="translate(546.65,498.4) rotate(-90)" text-anchor="end" font-size="11.15" fill="#4d4d4d">2021-04-07</text><line x1="561.07" y1="492" x2="561.07" y2="495" stroke="#333" stroke-width="1"/><text transform="translate(564.97,498.4) rotate(-90)" text-anchor="end" font-size="11.15" fill="#4d4d4d">2021-04-14</text><line x1="579.40" y1="492" x2="579.40" y2="495" stroke="#333" stroke-width="1"/><text transform="translate(583.30,498.4) rotate(-90)" text-anchor="end" font-size="11.15" fill="#4d4d4d">2021-04-21</text><line x1="597.72" y1="492" x2="597.72" y2="495" stroke="#333" stroke-width="1"/><text transform="translate(601.62,498.4) rotate(-90)" text-anchor="end" font-size="11.15" fill="#4d4d4d">2021-04-28</text><line x1="616.04" y1="492" x2="616.04" y2="495" stroke="#333" stroke-width="1"/><text transform="translate(619.94,498.4) rotate(-90)" text-anchor="end" font-size="11.15" fill="#4d4d4d">2021-05-05</text><line x1="634.37" y1="492" x2="634.37" y2="495" stroke="#333" stroke-width="1"/><text transform="translate(638.27,498.4) rotate(-90)" text-anchor="end" font-size="11.15" fill="#4d4d4d">2021-05-12</text><line x1="652.69" y1="492" x2="652.69" y2="495" stroke="#333" stroke-width="1"/><text transform="translate(656.59,498.4) rotate(-90)" text-anchor="end" font-size="11.15" fill="#4d4d4d">2021-05-19</text><line x1="671.02" y1="492" x2="671.02" y2="495" stroke="#333" stroke-width="1"/><text transform="translate(674.92,498.4) rotate(-90)" text-anchor="end" font-size="11.15" fill="#4d4d4d">2021-05-26</text><line x1="689.34" y1="492" x2="689.34" y2="495" stroke="#333" stroke-width="1"/><text transform="translate(693.24,498.4) rotate(-90)" text-anchor="end" font-size="11.15" fill="#4d4d4d">2021-06-02</text><line x1="707.66" y1="492" x2="707.66" y2="495" stroke="#333" stroke-width="1"/><text transform="translate(711.56,498.4) rotate(-90)" text-anchor="end" font-size="11.15" fill="#4d4d4d">2021-06-09</text><line x1="725.99" y1="492" x2="725.99" y2="495" stroke="#333" stroke-width="1"/><text transform="translate(729.89,498.4) rotate(-90)" text-anchor="end" font-size="11.15" fill="#4d4d4d">2021-06-16</text><line x1="744.31" y1="492" x2="744.31" y2="495" stroke="#333" stroke-width="1"/><text transform="translate(748.21,498.4) rotate(-90)" text-anchor="end" font-size="11.15" fill="#4d4d4d">2021-06-23</text><line x1="762.64" y1="492" x2="762.64" y2="495" stroke="#333" stroke-width="1"/><text transform="translate(766.54,498.4) rotate(-90)" text-anchor="end" font-size="11.15" fill="#4d4d4d">2021-06-30</text><line x1="780.96" y1="492" x2="780.96" y2="495" stroke="#333" stroke-width="1"/><text transform="translate(784.86,498.4) rotate(-90)" text-anchor="end" font-size="11.15" fill="#4d4d4d">2021-07-07</text><line x1="799.28" y1="492" x2="799.28" y2="495" stroke="#333" stroke-width="1"/><text transform="translate(803.18,498.4) rotate(-90)" text-anchor="end" font-size="11.15" fill="#4d4d4d">2021-07-14</text><line x1="817.61" y1="492" x2="817.61" y2="495" stroke="#333" stroke-width="1"/><text transform="translate(821.51,498.4) rotate(-90)" text-anchor="end" font-size="11.15" fill="#4d4d4d">2021-07-21</text><line x1="835.93" y1="492" x2="835.93" y2="495" stroke="#333" stroke-width="1"/><text transform="translate(839.83,498.4) rotate(-90)" text-anchor="end" font-size="11.15" fill="#4d4d4d">2021-07-28</text><line x1="854.26" y1="492" x2="854.26" y2="495" stroke="#333" stroke-width="1"/><text transform="translate(858.16,498.4) rotate(-90)" text-anchor="end" font-size="11.15" fill="#4d4d4d">2021-08-04</text><line x1="872.58" y1="492" x2="872.58" y2="495" stroke="#333" stroke-width="1"/><text transform="translate(876.48,498.4) rotate(-90)" text-anchor="end" font-size="11.15" fill="#4d4d4d">2021-08-11</text><line x1="890.90" y1="492" x2="890.90" y2="495" stroke="#333" stroke-width="1"/><text transform="translate(894.80,498.4) rotate(-90)" text-anchor="end" font-size="11.15" fill="#4d4d4d">2021-08-18</text><line x1="909.23" y1="492" x2="909.23" y2="495" stroke="#333" stroke-width="1"/><text transform="translate(913.13,498.4) rotate(-90)" text-anchor="end" font-size="11.15" fill="#4d4d4d">2021-08-25</text><line x1="927.55" y1="492" x2="927.55" y2="495" stroke="#333" stroke-width="1"/><text transform="translate(931.45,498.4) rotate(-90)" text-anchor="end" font-size="11.15" fill="#4d4d4d">2021-09-01</text><line x1="945.88" y1="492" x2="945.88" y2="495" stroke="#333" stroke-width="1"/><text transform="translate(949.78,498.4) rotate(-90)" text-anchor="end" font-size="11.15" fill="#4d4d4d">2021-09-08</text><line x1="964.20" y1="492" x2="964.20" y2="495" stroke="#333" stroke-width="1"/><text transform="translate(968.10,498.4) rotate(-90)" text-anchor="end" font-size="11.15" fill="#4d4d4d">2021-09-15</text></g>
<text x="510" y="569" text-anchor="middle" font-family="Liberation Sans, Arial, sans-serif" font-size="12.8" fill="#111">Data</text>
<text transform="translate(1004.8,298.5) rotate(90)" text-anchor="middle" font-family="Liberation Sans, Arial, sans-serif" font-size="13.4" fill="#111">Nuovi casi</text>
<rect x="355.8" y="592.7" width="21.8" height="20.4" fill="#f0f0f0"/>
<line x1="358.6" y1="603.2" x2="375" y2="603.2" stroke="#000" stroke-width="3"/>
<rect x="497.5" y="592.7" width="19.4" height="20.4" fill="#a9c3d1"/>
<text x="384" y="606.6" font-family="Liberation Sans, Arial, sans-serif" font-size="10.6" fill="#111">RDt (lag 7 giorni)</text>
<text x="524.6" y="606.6" font-family="Liberation Sans, Arial, sans-serif" font-size="10.6" fill="#111">Nuovi casi - media mobile 7 gg</text>
</svg>
<div class="pn">5</div>
<svg width="160" height="84" viewBox="836 640 160 84" style="position:absolute;left:836px;top:640px">
<defs><radialGradient id="lg" cx="50%" cy="42%" r="72%"><stop offset="0" stop-color="#43a043"/><stop offset="0.6" stop-color="#348a38"/><stop offset="1" stop-color="#245f2b"/></radialGradient></defs>
<g font-family="DejaVu Sans, Liberation Sans, sans-serif">
<text x="842" y="654.5" font-size="11.4" fill="#3e7f4c" stroke="#3e7f4c" stroke-width="0.25" textLength="138.2" lengthAdjust="spacingAndGlyphs">Sistema Socio Sanitario</text>
<rect x="842.3" y="661.6" width="40.6" height="37.9" rx="3.2" fill="url(#lg)"/>
<g fill="#fff" stroke="#fff" stroke-width="5.6" stroke-linecap="round">
<line x1="862.6" y1="680.3" x2="852.6" y2="675.9"/><line x1="862.6" y1="680.3" x2="866.9" y2="671.3"/>
<line x1="862.6" y1="680.3" x2="872.2" y2="684.3"/><line x1="862.6" y1="680.3" x2="858.3" y2="689.9"/>
</g>
<g fill="#fff"><circle cx="852.6" cy="675.9" r="4.6"/><circle cx="866.9" cy="671.3" r="4.6"/><circle cx="872.2" cy="684.3" r="4.6"/><circle cx="858.3" cy="689.9" r="4.6"/><circle cx="862.6" cy="680.3" r="3.4"/></g>
<text x="888.5" y="677.9" font-size="13.6" fill="#111" stroke="#111" stroke-width="0.3" textLength="71.2" lengthAdjust="spacingAndGlyphs">Regione</text>
<text x="888.5" y="692.5" font-size="13.6" fill="#111" stroke="#111" stroke-width="0.3" textLength="91.8" lengthAdjust="spacingAndGlyphs">Lombardia</text>
<text x="842" y="717" font-size="13.6" fill="#3e7f4c" stroke="#3e7f4c" stroke-width="0.25" textLength="100.2" lengthAdjust="spacingAndGlyphs">ATS Insubria</text>
</g></svg>
<div class="lv"></div>
</body></html>
